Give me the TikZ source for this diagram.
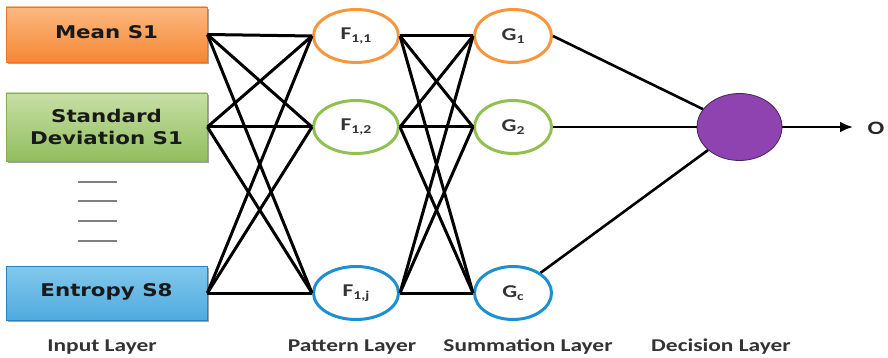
\documentclass[tikz,border=0pt]{standalone}
\usepackage{fontspec}
\usetikzlibrary{shadows,arrows.meta,shapes.geometric}
\newfontfamily\boxfont[FakeStretch=1.22]{DejaVu Sans}
\newfontfamily\lblfont[FakeStretch=1.3]{Carlito}
\newcommand\lowsub[1]{\raisebox{-2.5pt}{\fontsize{12}{12}\selectfont #1}}
\definecolor{orgtop}{RGB}{252,185,130}
\definecolor{orgbot}{RGB}{245,135,50}
\definecolor{orgline}{RGB}{232,118,40}
\definecolor{grntop}{RGB}{200,223,165}
\definecolor{grnbot}{RGB}{145,190,95}
\definecolor{grnline}{RGB}{130,175,85}
\definecolor{blutop}{RGB}{130,200,236}
\definecolor{blumid}{RGB}{30,140,205}
\definecolor{blubot}{RGB}{80,170,222}
\definecolor{bluline}{RGB}{40,130,190}
\definecolor{ringorg}{RGB}{247,150,60}
\definecolor{ringgrn}{RGB}{146,192,80}
\definecolor{ringblu}{RGB}{30,143,208}
\definecolor{decfill}{RGB}{143,67,176}
\definecolor{decline}{RGB}{70,35,90}
\begin{document}
\begin{tikzpicture}[x=1pt,y=-1pt,
  inbox/.style={rectangle, minimum width=201pt, inner sep=0pt, line width=0.8pt,
    font=\boxfont\bfseries\fontsize{17.5}{22}\selectfont, align=center, text=black!90,
    drop shadow={shadow xshift=1.5pt,shadow yshift=-2pt,opacity=0.5,fill=black!70}},
  ring/.style={ellipse, inner sep=0pt, line width=3pt, fill=white,
    font=\lblfont\bfseries\fontsize{18}{18}\selectfont, text=black!80},
  fring/.style={ring, minimum width=85pt, minimum height=53pt},
  gring/.style={ring, minimum width=77pt, minimum height=53pt},
  conn/.style={line width=3pt, black},
  layerlbl/.style={font=\lblfont\bfseries\fontsize{18}{18}\selectfont, text=black!80},
  dashmark/.style={line width=1.6pt, black!50}]
\useasboundingbox (0,0) rectangle (888,358);

% input layer boxes
\node[inbox, minimum height=55pt, top color=orgtop, bottom color=orgbot, draw=orgline]
  (mean) at (106.5,34.5) {\raisebox{5pt}{Mean S1}};
\node[inbox, minimum height=68pt, top color=grntop, bottom color=grnbot, draw=grnline]
  (sd) at (106.5,127) {Standard\\Deviation S1};
\node[inbox, minimum height=54pt, top color=blutop, middle color=blumid, bottom color=blubot, draw=bluline]
  (ent) at (106.5,293) {\raisebox{5pt}{Entropy S8}};

% elided inputs
\foreach \yy in {182,201,221,241}
  \draw[dashmark] (78,\yy) -- (117,\yy);

% pattern layer
\node[fring, draw=ringorg] (f1) at (356,36) {F\lowsub{1,1}};
\node[fring, draw=ringgrn] (f2) at (356,127) {F\lowsub{1,2}};
\node[fring, draw=ringblu] (fj) at (356,293) {F\lowsub{1,j}};

% summation layer
\node[gring, draw=ringorg] (g1) at (513,36) {G\lowsub{1}};
\node[gring, draw=ringgrn] (g2) at (513,127) {G\lowsub{2}};
\node[gring, draw=ringblu] (gc) at (513,293) {G\lowsub{c}};

% decision layer
\node[ellipse, minimum width=85pt, minimum height=67pt, fill=decfill, draw=decline, line width=0.8pt]
  (dec) at (739.5,127) {};
\coordinate (outend) at (853,127);
\node[font=\lblfont\bfseries\fontsize{19}{19}\selectfont, text=black!85] (out) at (876,128) {O};

% fully connected input -> pattern
\foreach \a in {mean,sd,ent}
  \foreach \b in {f1,f2,fj}
    \draw[conn] (\a.east) -- (\b.west);

% fully connected pattern -> summation
\foreach \a in {f1,f2,fj}
  \foreach \b in {g1,g2,gc}
    \draw[conn] (\a.east) -- (\b.west);

% summation -> decision -> output
\draw[conn, line width=2.6pt] (g1.east) -- (dec);
\draw[conn, line width=2.6pt] (g2.east) -- (dec.west);
\draw[conn, line width=2.6pt] (gc) -- (dec);
\draw[conn, line width=2.6pt, -{Latex[length=13pt,width=11pt]}] (dec.east) -- (outend);

% layer captions
\node[layerlbl] (lin) at (102,347) {Input Layer};
\node[layerlbl] (lpat) at (352,347) {Pattern Layer};
\node[layerlbl] (lsum) at (528,347) {Summation Layer};
\node[layerlbl] (ldec) at (721,347) {Decision Layer};
\end{tikzpicture}
\end{document}
